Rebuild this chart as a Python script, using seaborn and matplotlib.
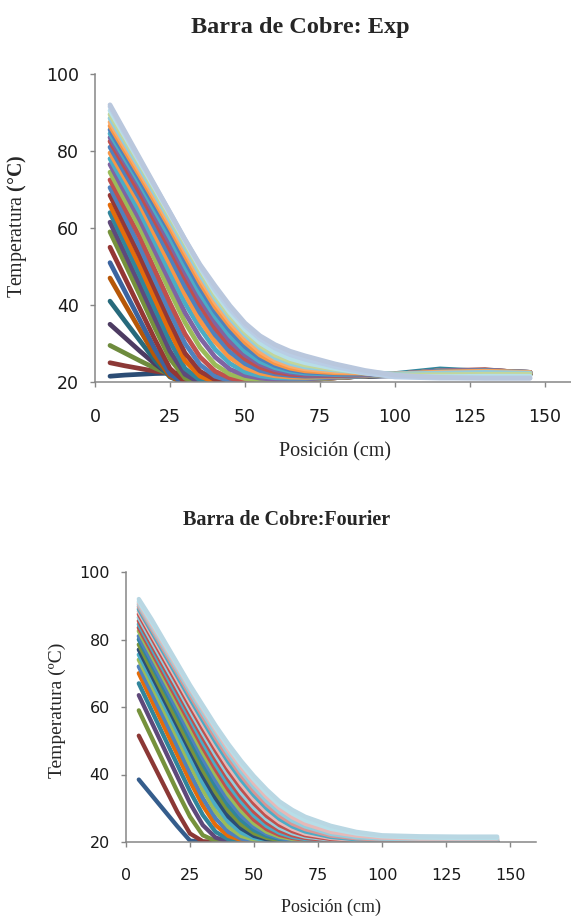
import numpy as np
import pandas as pd
import seaborn as sns
import matplotlib.pyplot as plt

# Posiciones de medida a lo largo de la barra (cm)
posicion = [5, 10, 15, 20, 25, 30, 35, 40, 45, 50, 55, 60, 65, 70, 80, 90, 100, 115, 130, 145]

# Perfiles de temperatura experimentales (una curva por instante de tiempo)
temp_exp = [
    [21.5, 21.8, 22.0, 22.2, 22.3, 22.2, 22.0, 21.8, 21.6, 21.4, 21.3, 21.3, 21.3, 21.4, 21.5, 21.5, 21.6, 22.0, 22.0, 22.0],
    [25.0, 24.2, 23.5, 22.8, 22.3, 21.9, 21.5, 21.2, 21.0, 21.0, 21.0, 21.1, 21.2, 21.3, 21.5, 21.6, 21.8, 22.0, 22.0, 22.0],
    [29.5, 27.5, 25.5, 23.6, 22.0, 21.0, 20.6, 20.5, 20.5, 20.6, 20.7, 20.9, 21.0, 21.2, 21.4, 21.6, 21.8, 22.1, 22.2, 22.0],
    [35.0, 31.5, 28.0, 24.7, 21.8, 20.4, 20.0, 20.0, 20.1, 20.3, 20.5, 20.6, 20.8, 20.9, 21.2, 21.5, 21.7, 22.2, 22.3, 22.0],
    [41.0, 35.8, 30.7, 25.6, 21.3, 19.7, 19.5, 19.6, 19.8, 20.0, 20.3, 20.5, 20.6, 20.8, 21.2, 21.5, 21.8, 22.4, 22.5, 22.0],
    [47.0, 40.2, 33.5, 26.8, 21.5, 19.5, 19.2, 19.3, 19.5, 19.8, 20.0, 20.3, 20.5, 20.7, 21.2, 21.5, 21.8, 22.4, 22.5, 22.0],
    [51.0, 43.5, 36.0, 28.5, 22.0, 19.5, 19.0, 19.1, 19.4, 19.7, 20.0, 20.3, 20.5, 20.7, 21.2, 21.5, 21.8, 22.5, 22.5, 22.0],
    [55.0, 47.0, 39.0, 31.0, 23.5, 20.0, 19.0, 19.0, 19.3, 19.6, 19.9, 20.2, 20.4, 20.7, 21.2, 21.6, 21.9, 22.6, 22.6, 22.0],
    [59.0, 50.8, 42.5, 34.0, 26.0, 21.0, 19.3, 19.0, 19.2, 19.5, 19.8, 20.1, 20.3, 20.6, 21.2, 21.6, 22.0, 22.7, 22.6, 22.1],
    [61.5, 53.3, 45.0, 36.5, 28.0, 22.0, 19.8, 19.2, 19.2, 19.4, 19.7, 20.0, 20.3, 20.6, 21.2, 21.6, 22.0, 22.7, 22.7, 22.2],
    [64.0, 55.8, 47.5, 39.0, 30.5, 23.5, 20.5, 19.5, 19.3, 19.4, 19.6, 19.9, 20.2, 20.5, 21.2, 21.6, 22.2, 23.4, 22.8, 22.2],
    [66.0, 58.0, 50.0, 41.5, 33.0, 25.5, 21.5, 20.0, 19.5, 19.4, 19.6, 19.9, 20.2, 20.5, 21.1, 21.6, 22.0, 22.9, 22.8, 22.2],
    [68.5, 60.5, 52.5, 44.0, 35.5, 27.5, 22.8, 20.6, 19.8, 19.6, 19.7, 19.9, 20.2, 20.5, 21.1, 21.6, 22.0, 22.9, 23.2, 22.3],
    [70.5, 62.8, 55.0, 46.5, 38.0, 30.0, 24.5, 21.5, 20.3, 19.9, 19.8, 20.0, 20.2, 20.5, 21.1, 21.6, 22.0, 22.9, 22.9, 22.3],
    [72.5, 65.0, 57.5, 49.0, 40.5, 32.5, 26.5, 22.8, 21.0, 20.3, 20.1, 20.1, 20.3, 20.5, 21.1, 21.6, 22.0, 22.9, 23.0, 22.3],
    [74.5, 67.2, 60.0, 51.8, 43.5, 35.5, 29.0, 24.5, 22.0, 20.9, 20.5, 20.4, 20.5, 20.6, 21.1, 21.6, 22.0, 22.9, 23.0, 22.4],
    [76.5, 69.2, 62.0, 54.0, 46.0, 38.0, 31.5, 26.5, 23.3, 21.7, 21.0, 20.7, 20.7, 20.8, 21.2, 21.6, 22.0, 22.9, 23.0, 22.4],
    [78.0, 71.0, 64.0, 56.2, 48.3, 40.5, 34.0, 28.5, 24.8, 22.6, 21.6, 21.1, 21.0, 21.0, 21.4, 21.6, 22.0, 22.9, 23.0, 22.5],
    [79.5, 72.8, 66.0, 58.2, 50.5, 42.8, 36.0, 30.5, 26.3, 23.7, 22.3, 21.6, 21.3, 21.2, 21.5, 21.7, 22.0, 22.9, 23.0, 22.5],
    [81.0, 74.2, 67.5, 60.0, 52.5, 44.8, 38.0, 32.3, 27.8, 24.8, 23.0, 22.1, 21.7, 21.5, 21.6, 21.8, 22.0, 22.9, 23.0, 22.5],
    [82.5, 75.8, 69.0, 61.8, 54.5, 47.0, 40.0, 34.0, 29.3, 26.0, 23.8, 22.6, 22.0, 21.8, 21.7, 21.9, 22.0, 22.8, 23.0, 22.5],
    [83.5, 77.0, 70.5, 63.2, 56.0, 48.5, 41.5, 35.5, 30.6, 27.0, 24.6, 23.2, 22.4, 22.0, 21.9, 22.0, 22.0, 22.8, 23.0, 22.5],
    [84.5, 78.0, 71.5, 64.5, 57.5, 50.0, 43.0, 37.0, 32.0, 28.0, 25.3, 23.7, 22.8, 22.3, 22.0, 22.1, 22.0, 22.7, 22.9, 22.5],
    [85.5, 79.0, 72.5, 65.7, 59.0, 51.5, 44.5, 38.3, 33.3, 29.2, 26.2, 24.3, 23.2, 22.6, 22.2, 22.2, 22.0, 22.6, 22.8, 22.5],
    [86.5, 80.0, 73.5, 66.8, 60.0, 52.8, 45.8, 39.5, 34.5, 30.3, 27.0, 24.9, 23.6, 22.9, 22.4, 22.3, 22.0, 22.6, 22.8, 22.5],
    [87.5, 81.0, 74.5, 67.8, 61.0, 54.0, 47.0, 40.7, 35.5, 31.3, 27.9, 25.6, 24.2, 23.4, 22.7, 22.4, 22.1, 22.5, 22.7, 22.4],
    [88.5, 82.0, 75.5, 68.8, 62.0, 55.0, 48.0, 41.7, 36.5, 32.2, 28.8, 26.3, 24.8, 23.9, 23.1, 22.5, 22.1, 22.3, 22.5, 22.3],
    [89.5, 83.0, 76.5, 69.7, 62.8, 56.0, 49.0, 42.5, 37.2, 32.9, 29.5, 27.0, 25.4, 24.4, 23.3, 22.5, 21.8, 21.9, 22.0, 22.0],
    [90.5, 83.8, 77.0, 70.3, 63.5, 56.6, 49.7, 43.3, 38.0, 33.6, 30.2, 27.8, 26.1, 25.0, 23.5, 22.3, 21.5, 21.4, 21.5, 21.5],
    [91.5, 84.5, 77.5, 70.8, 64.0, 57.0, 50.2, 44.0, 38.9, 34.6, 31.2, 28.8, 27.1, 25.9, 24.0, 22.4, 21.3, 21.0, 21.0, 21.0],
    [92.0, 85.0, 78.0, 71.0, 64.0, 57.0, 50.5, 45.0, 39.8, 35.3, 32.0, 29.7, 28.0, 26.8, 24.7, 23.0, 21.8, 21.2, 21.0, 21.0],
]

# Perfiles de temperatura calculados con la serie de Fourier
temp_fourier = [
    [38.5, 33.9, 29.3, 24.7, 20.4, 20.0, 20.0, 20.0, 20.0, 20.0, 20.0, 20.0, 20.0, 20.0, 20.0, 20.0, 20.0, 20.0, 20.0, 20.0],
    [51.5, 44.0, 36.5, 29.0, 22.5, 20.2, 20.0, 20.0, 20.0, 20.0, 20.0, 20.0, 20.0, 20.0, 20.0, 20.0, 20.0, 20.0, 20.0, 20.0],
    [59.0, 51.0, 43.0, 35.0, 27.5, 22.0, 20.3, 20.0, 20.0, 20.0, 20.0, 20.0, 20.0, 20.0, 20.0, 20.0, 20.0, 20.0, 20.0, 20.0],
    [63.5, 55.5, 47.5, 39.5, 31.5, 25.0, 21.3, 20.2, 20.0, 20.0, 20.0, 20.0, 20.0, 20.0, 20.0, 20.0, 20.0, 20.0, 20.0, 20.0],
    [67.0, 59.0, 51.0, 43.0, 35.0, 28.0, 23.0, 20.8, 20.2, 20.0, 20.0, 20.0, 20.0, 20.0, 20.0, 20.0, 20.0, 20.0, 20.0, 20.0],
    [70.0, 62.0, 54.0, 46.0, 38.0, 30.8, 25.0, 21.8, 20.6, 20.2, 20.0, 20.0, 20.0, 20.0, 20.0, 20.0, 20.0, 20.0, 20.0, 20.0],
    [72.0, 64.3, 56.5, 48.5, 40.5, 33.0, 27.0, 23.0, 21.0, 20.4, 20.1, 20.0, 20.0, 20.0, 20.0, 20.0, 20.0, 20.0, 20.0, 20.0],
    [74.0, 66.5, 58.8, 51.0, 43.0, 35.5, 29.0, 24.5, 21.8, 20.7, 20.2, 20.1, 20.0, 20.0, 20.0, 20.0, 20.0, 20.0, 20.0, 20.0],
    [75.5, 68.0, 60.5, 52.8, 45.0, 37.5, 31.0, 26.0, 22.8, 21.2, 20.5, 20.2, 20.1, 20.0, 20.0, 20.0, 20.0, 20.0, 20.0, 20.0],
    [77.0, 69.5, 62.0, 54.5, 47.0, 39.5, 33.0, 27.5, 24.0, 21.8, 20.8, 20.3, 20.1, 20.0, 20.0, 20.0, 20.0, 20.0, 20.0, 20.0],
    [78.5, 71.0, 63.5, 56.0, 48.5, 41.3, 34.8, 29.2, 25.2, 22.6, 21.2, 20.6, 20.2, 20.1, 20.0, 20.0, 20.0, 20.0, 20.0, 20.0],
    [80.0, 72.7, 65.3, 58.0, 50.5, 43.2, 36.6, 30.8, 26.5, 23.5, 21.8, 20.9, 20.4, 20.2, 20.0, 20.0, 20.0, 20.0, 20.0, 20.0],
    [81.0, 73.8, 66.6, 59.4, 52.0, 44.8, 38.2, 32.4, 27.8, 24.5, 22.4, 21.2, 20.6, 20.3, 20.1, 20.0, 20.0, 20.0, 20.0, 20.0],
    [82.5, 75.4, 68.2, 61.0, 53.7, 46.5, 40.0, 34.0, 29.2, 25.5, 23.0, 21.6, 20.9, 20.5, 20.1, 20.0, 20.0, 20.0, 20.0, 20.0],
    [83.5, 76.5, 69.4, 62.3, 55.2, 48.0, 41.5, 35.5, 30.6, 26.6, 23.8, 22.1, 21.2, 20.7, 20.2, 20.1, 20.0, 20.0, 20.0, 20.0],
    [84.5, 77.6, 70.6, 63.6, 56.6, 49.5, 43.0, 37.0, 32.0, 27.8, 24.7, 22.7, 21.5, 20.9, 20.3, 20.1, 20.0, 20.0, 20.0, 20.0],
    [85.5, 78.6, 71.7, 64.8, 57.8, 51.0, 44.5, 38.5, 33.3, 29.0, 25.7, 23.4, 22.0, 21.2, 20.5, 20.2, 20.1, 20.0, 20.0, 20.0],
    [86.5, 79.6, 72.8, 66.0, 59.0, 52.3, 45.8, 39.8, 34.6, 30.2, 26.7, 24.2, 22.6, 21.6, 20.7, 20.3, 20.1, 20.0, 20.0, 20.0],
    [87.5, 80.7, 73.9, 67.1, 60.2, 53.5, 47.1, 41.1, 35.9, 31.4, 27.7, 25.0, 23.2, 22.0, 20.9, 20.4, 20.2, 20.1, 20.1, 20.1],
    [88.3, 81.6, 74.9, 68.2, 61.4, 54.8, 48.4, 42.4, 37.2, 32.6, 28.8, 25.9, 23.9, 22.5, 21.2, 20.6, 20.3, 20.2, 20.2, 20.2],
    [89.0, 82.4, 75.8, 69.2, 62.5, 56.0, 49.6, 43.7, 38.4, 33.8, 29.9, 26.8, 24.6, 23.1, 21.5, 20.8, 20.5, 20.3, 20.3, 20.3],
    [89.7, 83.2, 76.7, 70.2, 63.6, 57.2, 50.9, 45.0, 39.7, 35.0, 31.0, 27.8, 25.4, 23.8, 21.9, 21.1, 20.7, 20.5, 20.5, 20.5],
    [90.3, 83.9, 77.5, 71.1, 64.6, 58.3, 52.1, 46.2, 40.9, 36.2, 32.1, 28.8, 26.3, 24.6, 22.4, 21.4, 21.0, 20.8, 20.7, 20.7],
    [90.8, 84.5, 78.2, 71.9, 65.5, 59.3, 53.2, 47.3, 42.1, 37.4, 33.3, 29.9, 27.3, 25.4, 23.0, 21.9, 21.3, 21.0, 21.0, 21.0],
    [91.3, 85.2, 78.9, 72.5, 66.0, 59.9, 53.9, 48.2, 43.1, 38.5, 34.4, 30.9, 28.4, 26.4, 23.9, 22.5, 21.7, 21.3, 21.2, 21.2],
    [92.0, 86.0, 79.5, 73.0, 66.5, 60.5, 54.5, 49.0, 44.0, 39.5, 35.5, 32.0, 29.5, 27.5, 24.8, 23.0, 22.0, 21.7, 21.6, 21.6],
]

# Colores tipo Excel 2007 (de la primera a la ultima serie)
colores_exp = [
    "#2C4D75", "#8C3836", "#6E8B3D", "#4D3B62", "#276A7C", "#B65708",
    "#3B64A0", "#943634", "#76923C", "#5F497A", "#31859C", "#E46C0A",
    "#953735", "#4F81BD", "#C0504D", "#9BBB59", "#8064A2", "#4BACC6",
    "#F79646", "#4F81BD", "#C0504D", "#8064A2", "#4BACC6", "#4F81BD",
    "#F79646", "#F9AB6B", "#93CDDD", "#C3D69B", "#B7DEE8", "#B9CDE5",
    "#B9C7DD",
]
colores_fourier = [
    "#355D8C", "#8C3836", "#76923C", "#5F497A", "#31859C", "#E46C0A",
    "#4F81BD", "#9BBB59", "#4BACC6", "#2C4D75", "#77933C", "#31859C",
    "#4F81BD", "#9BBB59", "#C0504D", "#4BACC6", "#C0504D", "#93CDDD",
    "#C0504D", "#E6B9B8", "#4BACC6", "#D99694", "#93CDDD", "#E6B9B8",
    "#B7DEE8", "#B9D7E3",
]

x_ticks = [0, 25, 50, 75, 100, 125, 150]
y_ticks = [20, 40, 60, 80, 100]


def to_long(curvas):
    filas = []
    for i, curva in enumerate(curvas):
        for x, t in zip(posicion, curva):
            filas.append({"serie": f"s{i:02d}", "pos": x, "temp": t})
    return pd.DataFrame(filas)


def dibujar(ax, curvas, colores, lw, tick_size):
    df = to_long(curvas)
    niveles = sorted(df["serie"].unique())
    sns.lineplot(data=df, x="pos", y="temp", hue="serie", hue_order=niveles,
                 palette=colores, lw=lw, legend=False, ax=ax, sort=False,
                 estimator=None, solid_capstyle="round", solid_joinstyle="round")
    ax.set_xlim(0, 160)
    ax.set_ylim(20, 100)
    ax.set_xticks(x_ticks)
    ax.set_yticks(y_ticks)
    ax.set_xlabel("")
    ax.set_ylabel("")
    sns.despine(ax=ax)
    for s in ["left", "bottom"]:
        ax.spines[s].set_color("#868686")
        ax.spines[s].set_linewidth(1.1)
    ax.tick_params(axis="both", direction="out", length=3.6, width=1.0,
                   color="#868686", labelsize=tick_size, labelcolor="#1a1a1a")
    ax.tick_params(axis="x", pad=15)
    ax.tick_params(axis="y", pad=8)


sns.set_style("ticks")
plt.rcParams["font.family"] = ["DejaVu Sans"]
plt.rcParams["mathtext.fontset"] = "custom"
plt.rcParams["mathtext.rm"] = "Liberation Serif"
plt.rcParams["mathtext.bf"] = "Liberation Serif:bold"

fig = plt.figure(figsize=(5.71, 9.17), dpi=100)
W, H = 571, 917

# Grafico superior: datos experimentales
ax1 = fig.add_axes([95 / W, 1 - 382 / H, 480 / W, 308 / H])
dibujar(ax1, temp_exp, colores_exp, 3.4, 12.5)

# Grafico inferior: solucion de Fourier
ax2 = fig.add_axes([126 / W, 1 - 842 / H, 409.6 / W, 270 / H])
dibujar(ax2, temp_fourier, colores_fourier, 3.1, 11.5)

serif = ["Liberation Serif", "DejaVu Serif"]
fig.text(300 / W, 1 - 27 / H, "Barra de Cobre: Exp", ha="center", va="center",
         fontsize=17.5, fontweight="bold", family=serif)
fig.text(17 / W, 1 - 226 / H, r"Temperatura $\mathbf{(°C)}$", ha="center", va="center",
         rotation=90, fontsize=14.3, family=serif)
fig.text(335 / W, 1 - 452 / H, "Posición (cm)", ha="center", va="center",
         fontsize=14.5, family=serif)

fig.text(287 / W, 1 - 520 / H, "Barra de Cobre:Fourier", ha="center", va="center",
         fontsize=14.5, fontweight="bold", family=serif)
fig.text(57 / W, 1 - 710 / H, "Temperatura (ºC)", ha="center", va="center",
         rotation=90, fontsize=14, family=serif)
fig.text(331 / W, 1 - 907 / H, "Posición (cm)", ha="center", va="center",
         fontsize=13, family=serif)

fig.savefig("out.png", dpi=100)
